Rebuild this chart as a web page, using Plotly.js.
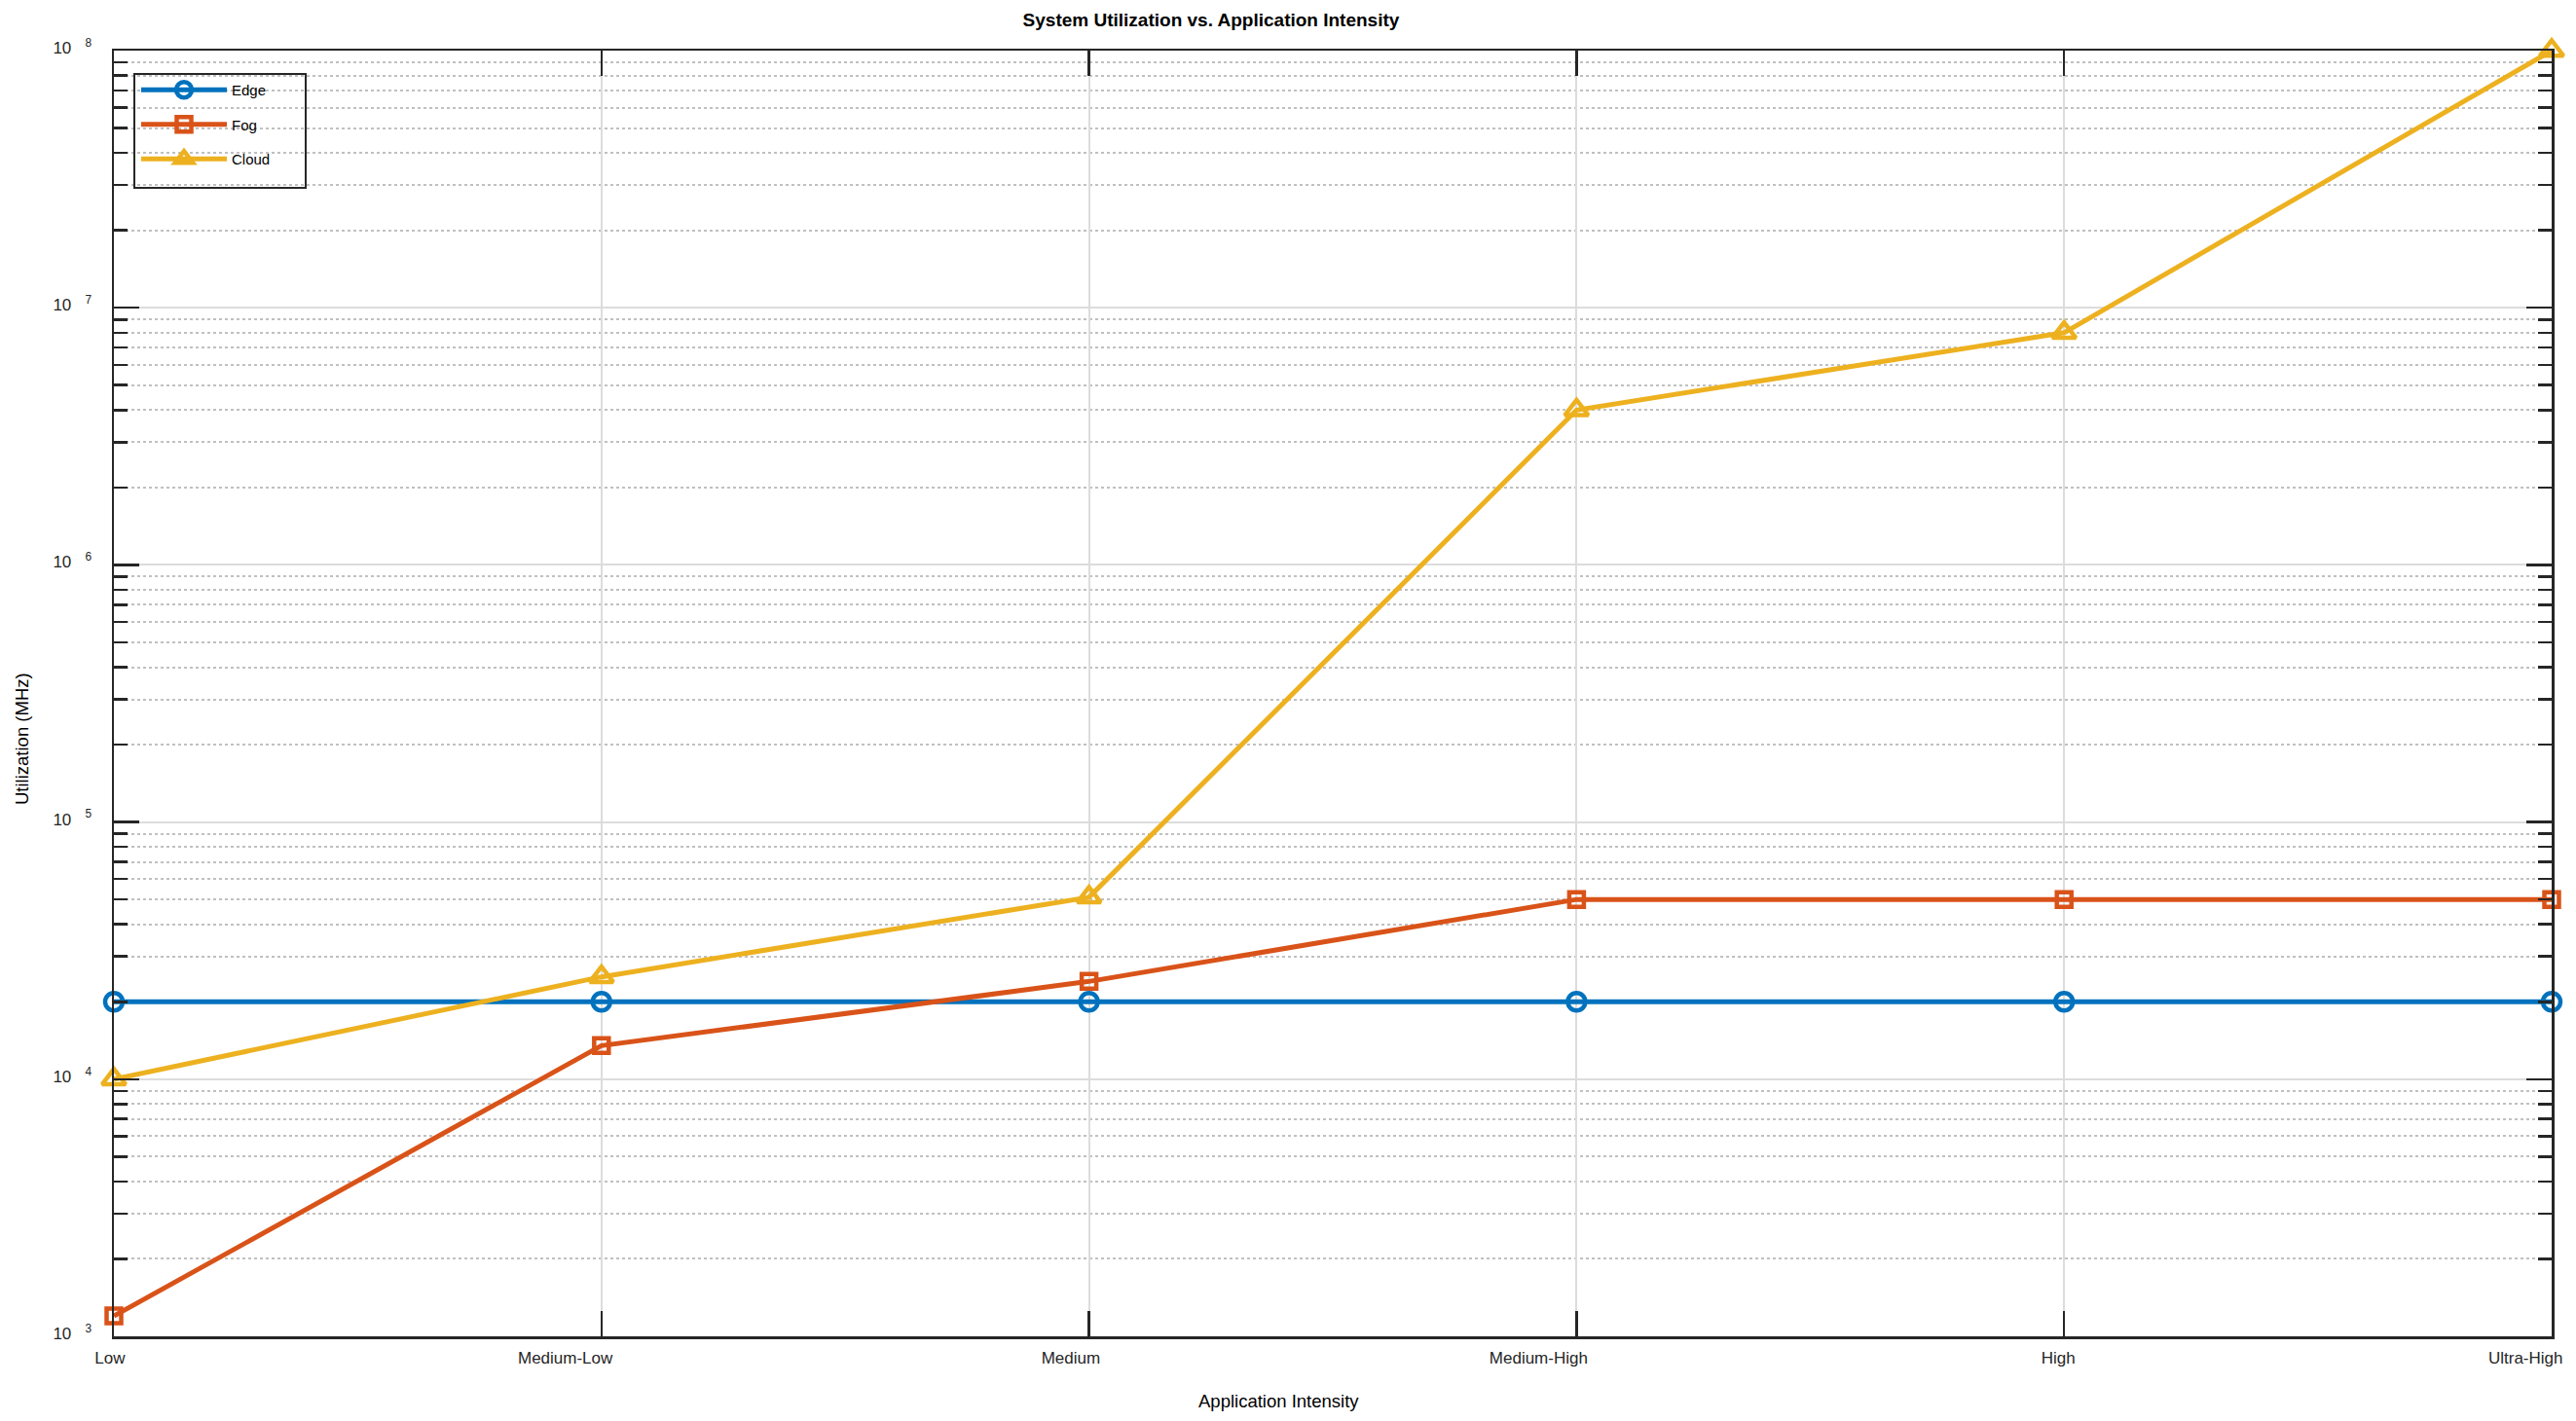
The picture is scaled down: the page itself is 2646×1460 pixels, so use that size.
<!DOCTYPE html>
<html>
<head>
<meta charset="utf-8">
<script src="https://cdn.plot.ly/plotly-3.0.1.min.js"></script>
<style>
  html, body { margin: 0; padding: 0; background: #ffffff; }
  #chart { width: 2646px; height: 1460px; }
</style>
</head>
<body>
<div id="chart"></div>
<script>
// ---- data ----
const categories = ['Low', 'Medium-Low', 'Medium', 'Medium-High', 'High', 'Ultra-High'];
const edgeUtil  = [20000, 20000, 20000, 20000, 20000, 20000];
const fogUtil   = [1200, 13500, 24000, 50000, 50000, 50000];
const cloudUtil = [10000, 25000, 51000, 4000000, 8000000, 100000000];
const seriesNames = ['Edge', 'Fog', 'Cloud'];
const yTickVals = [1e3, 1e4, 1e5, 1e6, 1e7, 1e8];
const yTickText = ['10&nbsp;&nbsp;&nbsp;<sup>3</sup>', '10&nbsp;&nbsp;&nbsp;<sup>4</sup>', '10&nbsp;&nbsp;&nbsp;<sup>5</sup>',
                   '10&nbsp;&nbsp;&nbsp;<sup>6</sup>', '10&nbsp;&nbsp;&nbsp;<sup>7</sup>', '10&nbsp;&nbsp;&nbsp;<sup>8</sup>'];
const titleText = 'System Utilization vs. Application Intensity';
const xTitleText = 'Application Intensity';
const yTitleText = 'Utilization (MHz)';

// minor tick positions (2..9 in each decade)
const minorVals = [];
for (let d = 3; d < 8; d++) {
  for (let k = 2; k <= 9; k++) minorVals.push(k * Math.pow(10, d));
}

const FONT = 'Liberation Sans, Arial, Helvetica, sans-serif';
const AX = '#262626';

// plot area in pixels
const PL = 117, PR = 2621, PT = 52, PB = 1373;
const px2x = (px) => (px - PL) / (PR - PL);
const px2y = (py) => (PB - py) / (PB - PT);

function mk(name, y, color, symbol, size, group) {
  return {
    type: 'scatter', mode: 'lines+markers', name: name,
    x: categories, y: y,
    legendgroup: group,
    line: { color: color, width: 5 },
    marker: { symbol: symbol, size: size, color: color, line: { color: color, width: 4.5 } },
    cliponaxis: false
  };
}

const traces = [
  mk(seriesNames[0], edgeUtil, '#0072BD', 'circle-open', 18, 'g1'),
  mk(seriesNames[1], fogUtil, '#D95319', 'square-open', 15, 'g2'),
  mk(seriesNames[2], cloudUtil, '#EDB120', 'triangle-up-open', 21, 'g3')
];

const layout = {
  width: 2646, height: 1460,
  paper_bgcolor: '#ffffff', plot_bgcolor: '#ffffff',
  margin: { l: PL, r: 2646 - PR, t: PT, b: 1460 - PB, pad: 0 },
  font: { family: FONT, size: 17, color: AX },
  title: {
    text: '<b>' + titleText + '</b>',
    font: { family: FONT, size: 19, color: '#000000' },
    x: 1244 / 2646, xref: 'container', xanchor: 'center',
    y: 1 - 20 / 1460, yref: 'container', yanchor: 'middle'
  },
  showlegend: true,
  legend: {
    x: px2x(140), y: px2y(76), xanchor: 'left', yanchor: 'top',
    bgcolor: 'rgba(0,0,0,0)', borderwidth: 0,
    font: { family: FONT, size: 15, color: '#000000' },
    traceorder: 'grouped', tracegroupgap: 13, itemwidth: 88
  },
  shapes: [
    { type: 'rect', xref: 'paper', yref: 'paper', layer: 'above',
      x0: px2x(138), x1: px2x(314), y0: px2y(193), y1: px2y(76),
      line: { color: AX, width: 2 }, fillcolor: 'rgba(0,0,0,0)' }
  ],
  xaxis: {
    type: 'category', range: [0, 5],
    showline: true, linecolor: AX, linewidth: 2.5, mirror: 'allticks',
    ticks: 'inside', ticklen: 26, tickwidth: 2.5, tickcolor: AX,
    showgrid: true, gridcolor: '#dcdcdc', gridwidth: 2,
    zeroline: false,
    ticklabelposition: 'outside left', ticklabelshift: 14, ticklabelstandoff: 5,
    tickfont: { family: FONT, size: 17, color: AX }
  },
  yaxis: {
    type: 'log', range: [3, 8],
    tickmode: 'array', tickvals: yTickVals, ticktext: yTickText,
    showline: true, linecolor: AX, linewidth: 2.5, mirror: 'allticks',
    ticks: 'inside', ticklen: 26, tickwidth: 2.5, tickcolor: AX,
    showgrid: true, gridcolor: '#dcdcdc', gridwidth: 2,
    zeroline: false,
    ticklabelstandoff: 17, ticklabelshift: -3,
    tickfont: { family: FONT, size: 17, color: AX },
    minor: {
      tickmode: 'array', tickvals: minorVals,
      ticks: 'inside', ticklen: 14, tickwidth: 2.5, tickcolor: AX,
      showgrid: true, gridcolor: '#c0c0c0', gridwidth: 2, griddash: 'dot'
    }
  },
  annotations: [
    { text: xTitleText, xref: 'paper', yref: 'paper', x: px2x(1313), y: px2y(1439),
      xanchor: 'center', yanchor: 'middle', showarrow: false,
      font: { family: FONT, size: 18.5, color: '#000000' } },
    { text: yTitleText, xref: 'paper', yref: 'paper', x: px2x(22), y: px2y(759),
      xanchor: 'center', yanchor: 'middle', showarrow: false, textangle: -90,
      font: { family: FONT, size: 18.5, color: '#000000' } }
  ]
};

Plotly.newPlot('chart', traces, layout, { displayModeBar: false, staticPlot: true });
</script>
</body>
</html>
